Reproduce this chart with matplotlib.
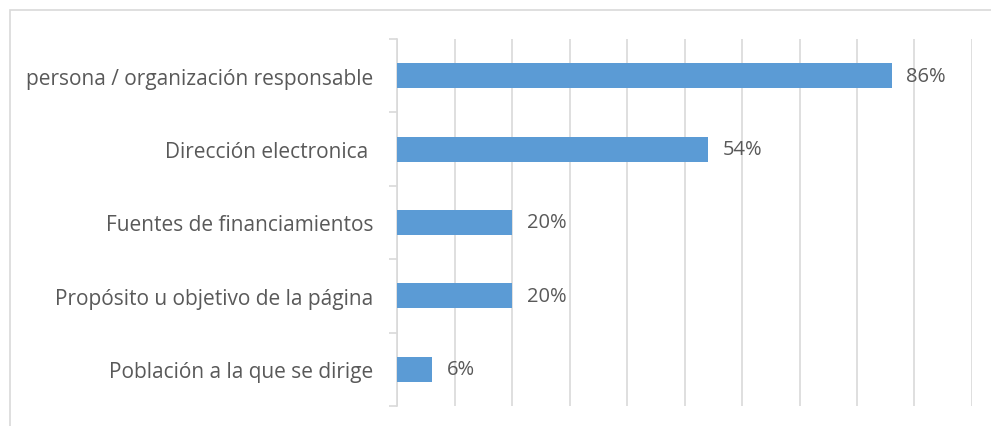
import matplotlib
matplotlib.use("Agg")
import matplotlib.pyplot as plt
from matplotlib.patches import Rectangle
from matplotlib.ticker import MultipleLocator

categorias = ["persona / organización responsable", "Dirección electronica ",
              "Fuentes de financiamientos", "Propósito u objetivo de la página",
              "Población a la que se dirige"]
porcentajes = [86, 54, 20, 20, 6]

AZUL = "#5B9BD5"
GRIS_TEXTO = "#595959"
GRIS_LINEA = "#D9D9D9"

plt.rcParams["font.family"] = ["Open Sans", "DejaVu Sans"]

fig = plt.figure(figsize=(9.91, 4.27), dpi=100)
fig.patch.set_facecolor("white")
# marco del área del gráfico (se sale por la derecha y abajo)
fig.patches.append(Rectangle((10 / 991, -0.1), 1.2, 1 - 11 / 427 + 0.1,
                             transform=fig.transFigure, fill=False,
                             ec=GRIS_LINEA, lw=1.2))

ax = fig.add_axes([397 / 991, 20 / 427, 575 / 991, 367 / 427])
y = list(range(len(categorias)))[::-1]
ax.barh(y, porcentajes, height=0.34, color=AZUL, zorder=3)
for yi, v in zip(y, porcentajes):
    ax.text(v + 2.6, yi, f"{v}%", va="center", ha="left", fontsize=14.5, color=GRIS_TEXTO)

ax.set_xlim(0, 100)
ax.set_ylim(-0.5, len(categorias) - 0.5)
ax.xaxis.set_major_locator(MultipleLocator(10))
ax.grid(axis="x", color=GRIS_LINEA, lw=1.2, zorder=0)
ax.set_axisbelow(True)
ax.tick_params(axis="x", length=0, labelbottom=False)

ax.set_yticks(y)
ax.set_yticklabels(categorias, fontsize=15, color=GRIS_TEXTO)
ax.tick_params(axis="y", which="major", length=0, pad=17)
ax.set_yticks([i - 0.5 for i in range(len(categorias) + 1)], minor=True)
ax.tick_params(axis="y", which="minor", length=6, color=GRIS_LINEA, width=1.2)

for s in ["top", "right", "bottom"]:
    ax.spines[s].set_visible(False)
ax.spines["left"].set_color(GRIS_LINEA)
ax.spines["left"].set_linewidth(1.2)

fig.savefig("out.png", dpi=100, facecolor="white")
